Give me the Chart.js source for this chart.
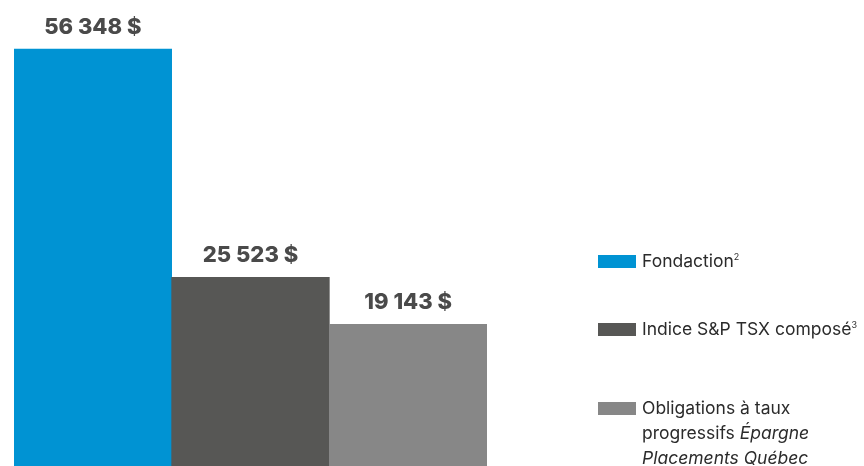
<!DOCTYPE html>
<html>
<head>
<meta charset="utf-8">
<script src="https://cdn.jsdelivr.net/npm/chart.js@4/dist/chart.umd.min.js"></script>
<style>
  html, body { margin: 0; padding: 0; background: #fff; }
  #wrap { position: relative; width: 864px; height: 466px; }
  #legend { position: absolute; left: 598px; top: 0; font-family: Inter, Roboto, sans-serif; font-size: 17.5px; color: #2b2b2b; }
  .item { position: absolute; left: 0; display: flex; align-items: flex-start; white-space: nowrap; }
  .box { width: 38px; height: 13px; margin-top: 7px; margin-right: 6px; flex: none; }
  .txt { line-height: 25px; }
  sup { font-size: 9px; vertical-align: 7px; line-height: 0; }
</style>
</head>
<body>
<div id="wrap">
  <canvas id="c" width="864" height="466"></canvas>
  <div id="legend"></div>
</div>
<script>
const categories = ['Fondaction', 'Indice S&P TSX composé', 'Obligations à taux progressifs Épargne Placements Québec'];
const values = [56348, 25523, 19143];
const colors = ['#0093d3', '#575755', '#878787'];
const legendHtml = [
  'Fondaction<sup>2</sup>',
  'Indice S&amp;P TSX composé<sup>3</sup>',
  'Obligations à taux<br>progressifs <i>Épargne</i><br><i>Placements Québec</i>'
];
const legendTops = [248, 316, 395];

const fmt = v => v.toString().replace(/\B(?=(\d{3})+(?!\d))/g, ' ') + ' $';

// étiquettes au-dessus des barres
const valueLabels = {
  id: 'valueLabels',
  afterDatasetsDraw(chart) {
    const ctx = chart.ctx;
    const meta = chart.getDatasetMeta(0);
    ctx.save();
    ctx.font = '800 22px Inter, Roboto, sans-serif';
    ctx.fillStyle = '#4a4a4a';
    ctx.textAlign = 'center';
    ctx.textBaseline = 'middle';
    meta.data.forEach((bar, i) => ctx.fillText(fmt(values[i]), bar.x, bar.y - 22));
    ctx.restore();
  }
};

new Chart(document.getElementById('c'), {
  type: 'bar',
  data: {
    labels: categories,
    datasets: [{ data: values, backgroundColor: colors, borderWidth: 0,
      categoryPercentage: 1, barPercentage: 1 }]
  },
  options: {
    responsive: false, animation: false,
    layout: { padding: { left: 14, right: 377, top: 0, bottom: 0 } },
    plugins: { legend: { display: false }, tooltip: { enabled: false } },
    scales: {
      x: { display: false },
      y: { display: false, min: 0, max: 63000 }
    }
  },
  plugins: [valueLabels]
});

const leg = document.getElementById('legend');
legendHtml.forEach((h, i) => {
  const d = document.createElement('div');
  d.className = 'item';
  d.style.top = legendTops[i] + 'px';
  d.innerHTML = `<span class="box" style="background:${colors[i]}"></span><span class="txt">${h}</span>`;
  leg.appendChild(d);
});
</script>
</body>
</html>
